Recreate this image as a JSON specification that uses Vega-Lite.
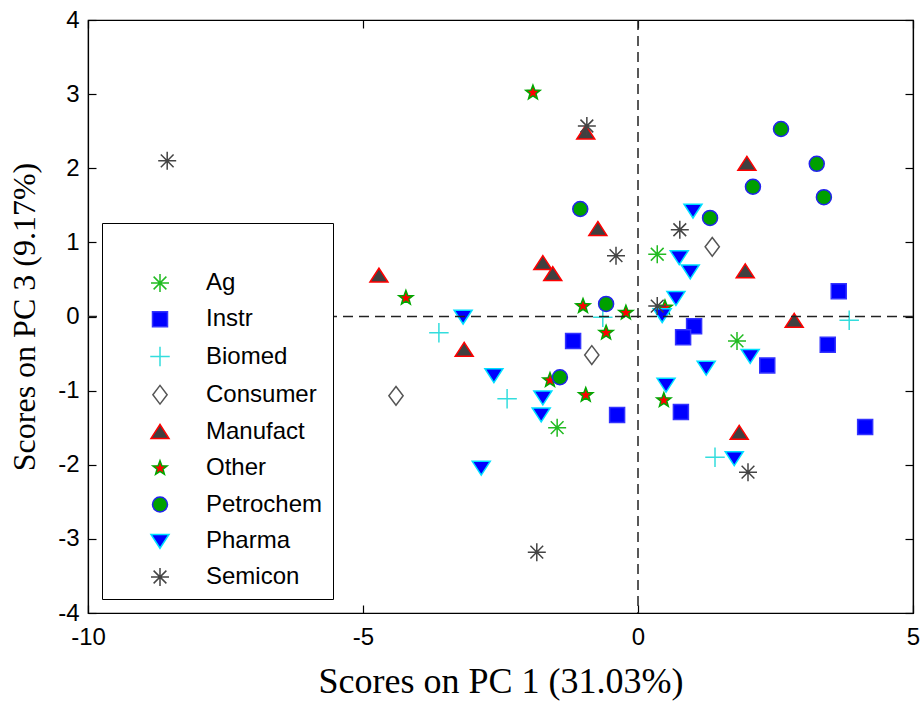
{
  "$schema": "https://vega.github.io/schema/vega-lite/v6.json",
  "width": 825,
  "height": 593,
  "autosize": "none",
  "padding": {"left": 88, "top": 20, "right": 10, "bottom": 90},
  "background": "white",
  "resolve": {"axis": {"x": "independent", "y": "independent"}},
  "layer": [
    {
      "data": {"values": [
        {"x": 0.35, "y": 0.84, "industry": "Ag"},
        {"x": 1.8, "y": -0.33, "industry": "Ag"},
        {"x": -1.47, "y": -1.5, "industry": "Ag"},
        {"x": 3.65, "y": 0.34, "industry": "Instr"},
        {"x": -1.18, "y": -0.33, "industry": "Instr"},
        {"x": 1.02, "y": -0.13, "industry": "Instr"},
        {"x": 0.82, "y": -0.28, "industry": "Instr"},
        {"x": 3.45, "y": -0.38, "industry": "Instr"},
        {"x": 2.35, "y": -0.66, "industry": "Instr"},
        {"x": -0.38, "y": -1.33, "industry": "Instr"},
        {"x": 0.78, "y": -1.29, "industry": "Instr"},
        {"x": 4.13, "y": -1.49, "industry": "Instr"},
        {"x": -3.62, "y": -0.22, "industry": "Biomed"},
        {"x": -2.38, "y": -1.11, "industry": "Biomed"},
        {"x": 3.84, "y": -0.05, "industry": "Biomed"},
        {"x": 1.4, "y": -1.9, "industry": "Biomed"},
        {"x": -0.64, "y": -0.01, "industry": "Biomed"},
        {"x": 1.35, "y": 0.94, "industry": "Consumer"},
        {"x": -0.84, "y": -0.52, "industry": "Consumer"},
        {"x": -4.4, "y": -1.07, "industry": "Consumer"},
        {"x": -4.71, "y": 0.55, "industry": "Manufact"},
        {"x": -1.73, "y": 0.72, "industry": "Manufact"},
        {"x": -1.55, "y": 0.57, "industry": "Manufact"},
        {"x": -0.73, "y": 1.18, "industry": "Manufact"},
        {"x": -0.95, "y": 2.48, "industry": "Manufact"},
        {"x": -3.16, "y": -0.45, "industry": "Manufact"},
        {"x": 1.98, "y": 2.06, "industry": "Manufact"},
        {"x": 1.95, "y": 0.61, "industry": "Manufact"},
        {"x": 2.84, "y": -0.06, "industry": "Manufact"},
        {"x": 1.84, "y": -1.57, "industry": "Manufact"},
        {"x": -1.91, "y": 3.02, "industry": "Other"},
        {"x": -4.22, "y": 0.25, "industry": "Other"},
        {"x": -1.0, "y": 0.14, "industry": "Other"},
        {"x": -0.22, "y": 0.05, "industry": "Other"},
        {"x": -0.58, "y": -0.22, "industry": "Other"},
        {"x": -0.95, "y": -1.06, "industry": "Other"},
        {"x": 0.47, "y": -1.13, "industry": "Other"},
        {"x": -1.6, "y": -0.86, "industry": "Other"},
        {"x": 0.49, "y": 0.12, "industry": "Other"},
        {"x": -1.05, "y": 1.45, "industry": "Petrochem"},
        {"x": -0.58, "y": 0.17, "industry": "Petrochem"},
        {"x": -1.42, "y": -0.82, "industry": "Petrochem"},
        {"x": 2.6, "y": 2.53, "industry": "Petrochem"},
        {"x": 3.25, "y": 2.06, "industry": "Petrochem"},
        {"x": 2.09, "y": 1.75, "industry": "Petrochem"},
        {"x": 3.38, "y": 1.61, "industry": "Petrochem"},
        {"x": 1.31, "y": 1.33, "industry": "Petrochem"},
        {"x": -3.18, "y": 0.0, "industry": "Pharma"},
        {"x": -2.62, "y": -0.79, "industry": "Pharma"},
        {"x": -1.73, "y": -1.09, "industry": "Pharma"},
        {"x": -1.76, "y": -1.32, "industry": "Pharma"},
        {"x": -2.85, "y": -2.04, "industry": "Pharma"},
        {"x": 1.0, "y": 1.43, "industry": "Pharma"},
        {"x": 0.75, "y": 0.8, "industry": "Pharma"},
        {"x": 0.95, "y": 0.61, "industry": "Pharma"},
        {"x": 0.69, "y": 0.25, "industry": "Pharma"},
        {"x": 0.44, "y": 0.02, "industry": "Pharma"},
        {"x": 0.51, "y": -0.92, "industry": "Pharma"},
        {"x": 1.24, "y": -0.69, "industry": "Pharma"},
        {"x": 2.04, "y": -0.53, "industry": "Pharma"},
        {"x": 1.75, "y": -1.91, "industry": "Pharma"},
        {"x": -8.56, "y": 2.1, "industry": "Semicon"},
        {"x": -0.93, "y": 2.57, "industry": "Semicon"},
        {"x": -0.4, "y": 0.82, "industry": "Semicon"},
        {"x": -1.84, "y": -3.18, "industry": "Semicon"},
        {"x": 0.76, "y": 1.17, "industry": "Semicon"},
        {"x": 0.35, "y": 0.14, "industry": "Semicon"},
        {"x": 2.0, "y": -2.1, "industry": "Semicon"}
      ]},
      "mark": {"type": "point", "filled": true, "opacity": 1, "size": 225, "strokeWidth": 1.5},
      "encoding": {
        "x": {
          "field": "x", "type": "quantitative",
          "scale": {"domain": [-10, 5], "nice": false, "zero": false},
          "axis": {"orient": "bottom", "values": [-10, -5, 0, 5], "labelExpr": "'' + datum.value", "labelFlush": false, "title": "Scores on PC 1 (31.03%)", "titleFontSize": 36, "labelPadding": 20, "titlePadding": 15}
        },
        "y": {
          "field": "y", "type": "quantitative",
          "scale": {"domain": [-4, 4], "nice": false, "zero": false},
          "axis": {"orient": "left", "values": [-4, -3, -2, -1, 0, 1, 2, 3, 4], "labelExpr": "'' + datum.value", "labelFlush": false, "title": "Scores on PC 3 (9.17%)", "labelPadding": 17, "titlePadding": 16}
        },
        "shape": {
          "field": "industry", "type": "nominal",
          "scale": {
            "domain": ["Ag", "Instr", "Biomed", "Consumer", "Manufact", "Other", "Petrochem", "Pharma", "Semicon"],
            "range": [
              "M-1.2,0H1.2M0,-1.2V1.2M-0.85,-0.85L0.85,0.85M-0.85,0.85L0.85,-0.85",
              "square",
              "M-1.3,0H1.3M0,-1.3V1.3",
              "M0,-1.25L0.95,0L0,1.25L-0.95,0Z",
              "M0,-1L1.2,0.85L-1.2,0.85Z",
              "M0,-1L0.247,-0.34L0.951,-0.309L0.399,0.13L0.588,0.809L0,0.42L-0.588,0.809L-0.399,0.13L-0.951,-0.309L-0.247,-0.34Z",
              "circle",
              "M-1.2,-0.85L1.2,-0.85L0,1Z",
              "M-1.2,0H1.2M0,-1.2V1.2M-0.85,-0.85L0.85,0.85M-0.85,0.85L0.85,-0.85"
            ]
          },
          "legend": {"orient": "none", "legendX": 14, "legendY": 203, "title": "\u00a0\u00a0\u00a0\u00a0\u00a0\u00a0\u00a0\u00a0\u00a0\u00a0\u00a0\u00a0\u00a0\u00a0\u00a0\u00a0\u00a0\u00a0\u00a0\u00a0\u00a0\u00a0\u00a0\u00a0\u00a0\u00a0\u00a0\u00a0\u00a0\u00a0\u00a0\u00a0\u00a0\u00a0\u00a0\u00a0\u00a0\u00a0\u00a0\u00a0"}
        },
        "fill": {
          "field": "industry", "type": "nominal",
          "scale": {
            "domain": ["Ag", "Instr", "Biomed", "Consumer", "Manufact", "Other", "Petrochem", "Pharma", "Semicon"],
            "range": ["transparent", "#0000ff", "transparent", "#ffffff", "#404040", "#ff0000", "#00a000", "#0000ff", "transparent"]
          },
          "legend": {"orient": "none", "legendX": 14, "legendY": 203, "title": "\u00a0\u00a0\u00a0\u00a0\u00a0\u00a0\u00a0\u00a0\u00a0\u00a0\u00a0\u00a0\u00a0\u00a0\u00a0\u00a0\u00a0\u00a0\u00a0\u00a0\u00a0\u00a0\u00a0\u00a0\u00a0\u00a0\u00a0\u00a0\u00a0\u00a0\u00a0\u00a0\u00a0\u00a0\u00a0\u00a0\u00a0\u00a0\u00a0\u00a0"}
        },
        "stroke": {
          "field": "industry", "type": "nominal",
          "scale": {
            "domain": ["Ag", "Instr", "Biomed", "Consumer", "Manufact", "Other", "Petrochem", "Pharma", "Semicon"],
            "range": ["#22bb22", "#3333ff", "#33dddd", "#555555", "#ff0000", "#00a800", "#2222ee", "#00e0ff", "#444444"]
          },
          "legend": {"orient": "none", "legendX": 14, "legendY": 203, "title": "\u00a0\u00a0\u00a0\u00a0\u00a0\u00a0\u00a0\u00a0\u00a0\u00a0\u00a0\u00a0\u00a0\u00a0\u00a0\u00a0\u00a0\u00a0\u00a0\u00a0\u00a0\u00a0\u00a0\u00a0\u00a0\u00a0\u00a0\u00a0\u00a0\u00a0\u00a0\u00a0\u00a0\u00a0\u00a0\u00a0\u00a0\u00a0\u00a0\u00a0"}
        }
      }
    },
    {
      "data": {"values": [{"v": 0}]},
      "mark": {"type": "rule", "color": "#222222", "strokeWidth": 1.5, "strokeDash": [10, 6]},
      "encoding": {
        "x": {"field": "v", "type": "quantitative", "axis": {"orient": "top", "values": [-10, -5, 0, 5], "labels": false, "title": null}}
      }
    },
    {
      "data": {"values": [{"v": 0}]},
      "mark": {"type": "rule", "color": "#222222", "strokeWidth": 1.5, "strokeDash": [10, 6]},
      "encoding": {
        "y": {"field": "v", "type": "quantitative", "axis": {"orient": "right", "values": [-4, -3, -2, -1, 0, 1, 2, 3, 4], "labels": false, "title": null}}
      }
    }
  ],
  "config": {
    "view": {"stroke": "black", "strokeWidth": 1.2},
    "axis": {
      "grid": false,
      "domainColor": "black",
      "domainWidth": 1.2,
      "tickColor": "black",
      "tickWidth": 1.2,
      "tickSize": -8,
      "labelFont": "Liberation Sans",
      "labelFontSize": 24,
      "labelColor": "black",
      "titleFont": "Liberation Serif",
      "titleFontSize": 32,
      "titleFontWeight": "normal",
      "titleColor": "black"
    },
    "legend": {
      "fillColor": "white",
      "strokeColor": "black",
      "padding": 10,
      "labelFont": "Liberation Sans",
      "labelFontSize": 24,
      "labelColor": "black",
      "titleFont": "Liberation Sans",
      "titleFontSize": 20,
      "titlePadding": 18,
      "titleLimit": 400,
      "symbolSize": 225,
      "symbolStrokeWidth": 1.5,
      "symbolOffset": 36,
      "labelOffset": 34,
      "rowPadding": 12.25
    }
  }
}
